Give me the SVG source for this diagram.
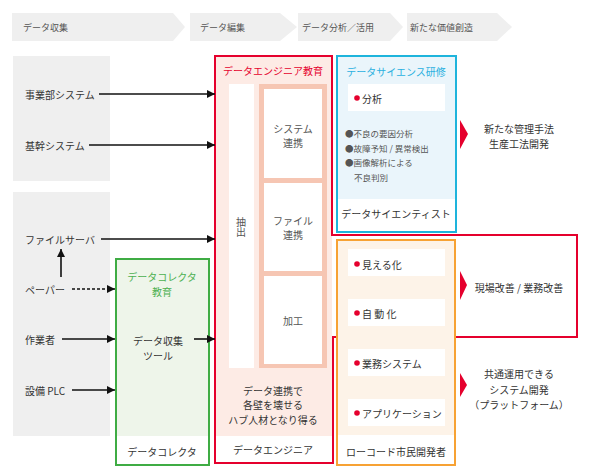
<svg xmlns="http://www.w3.org/2000/svg" width="590" height="475" viewBox="0 0 590 475">
<defs>
<marker id="ah" viewBox="0 0 8 8" refX="8" refY="4" markerWidth="8" markerHeight="8" markerUnits="userSpaceOnUse" orient="auto"><path d="M0,0 L8,4 L0,8 Z" fill="#111"/></marker>
</defs>
<style>
text{font-family:"Noto Sans CJK JP","Noto Sans",sans-serif;dominant-baseline:central;fill:#333}
.hd{font-size:9px;fill:#555}
.t{font-size:10px}
.c{text-anchor:middle}
.s{font-size:8.5px;fill:#555}
.cv{fill:#efefef}
.gray{fill:#efefef}
.wb{fill:#fff}
.ln{stroke:#111;stroke-width:1.6;fill:none;marker-end:url(#ah)}
.tri{fill:#e5002d}
.dot{fill:#e5002d}
</style>
<rect width="590" height="475" fill="#fff"/>
<g id="header">
<polygon class="cv" points="12,13 173,13 185,27 173,41 12,41"/>
<polygon class="cv" points="190,13 280,13 297,27 280,41 190,41"/>
<polygon class="cv" points="298,13 390,13 403,27 390,41 298,41"/>
<polygon class="cv" points="407,13 497,13 512,27 497,41 407,41"/>
<text class="hd" x="23" y="27">データ収集</text>
<text class="hd" x="200" y="27">データ編集</text>
<text class="hd" x="302" y="27">データ分析／活用</text>
<text class="hd" x="410" y="27">新たな価値創造</text>
</g>
<g id="sources">
<rect class="gray" x="13" y="56" width="97" height="125"/>
<rect class="gray" x="13" y="192" width="97" height="244"/>
<text class="t" x="25" y="94">事業部システム</text>
<text class="t" x="25" y="145">基幹システム</text>
<text class="t" x="25" y="239">ファイルサーバ</text>
<text class="t" x="25" y="289">ペーパー</text>
<text class="t" x="25" y="339">作業者</text>
<text class="t" x="25" y="390">設備 PLC</text>
</g>
<g id="collector">
<rect x="116" y="259" width="93" height="177" fill="#eef5ea"/>
<rect x="116" y="259" width="93" height="206" fill="none" stroke="#3fac44" stroke-width="2"/>
<text class="t c" x="162" y="276" style="fill:#4cb050">データコレクタ</text>
<text class="t c" x="162" y="291" style="fill:#4cb050">教育</text>
<text class="t c" x="158" y="340">データ収集</text>
<text class="t c" x="158" y="355">ツール</text>
<text class="t c" x="162" y="451">データコレクタ</text>
</g>
<g id="engineer">
<rect x="215" y="56" width="117" height="380" fill="#fdebe5"/>
<rect class="wb" x="229" y="84" width="25" height="284"/>
<rect x="259" y="84" width="68" height="284" fill="#f6c6b3"/>
<rect class="wb" x="264" y="89" width="58" height="89"/>
<rect class="wb" x="264" y="183" width="58" height="88"/>
<rect class="wb" x="264" y="276" width="58" height="88"/>
<polygon points="215,56 332,56 332,235 577,235 577,337 333,337 333,463 215,463" fill="none" stroke="#e5002d" stroke-width="2"/>
<text class="t c" x="273" y="70" style="fill:#e5002d">データエンジニア教育</text>
<text class="t c" x="241" y="227" style="fill:#555;writing-mode:vertical-rl;dominant-baseline:auto">抽出</text>
<text class="t c" x="293" y="128" style="fill:#555">システム</text>
<text class="t c" x="293" y="142" style="fill:#555">連携</text>
<text class="t c" x="293" y="220" style="fill:#555">ファイル</text>
<text class="t c" x="293" y="234" style="fill:#555">連携</text>
<text class="t c" x="293" y="320" style="fill:#555">加工</text>
<text class="t c" x="273" y="390">データ連携で</text>
<text class="t c" x="273" y="404">各壁を壊せる</text>
<text class="t c" x="273" y="419">ハブ人材となり得る</text>
<text class="t c" x="273" y="449">データエンジニア</text>
</g>
<g id="scientist">
<rect x="337" y="56" width="119" height="143" fill="#eaf5fb"/>
<rect x="337" y="56" width="119" height="176" fill="none" stroke="#1eb4dc" stroke-width="2"/>
<text class="t c" x="396" y="71" style="fill:#29b0e0">データサイエンス研修</text>
<rect class="wb" x="348" y="84" width="97" height="27"/>
<circle class="dot" cx="357" cy="98" r="2.8"/>
<text class="t" x="362" y="98">分析</text>
<text class="s" x="345" y="133">●不良の要因分析</text>
<text class="s" x="345" y="148">●故障予知 / 異常検出</text>
<text class="s" x="345" y="162">●画像解析による</text>
<text class="s" x="354" y="177">不良判別</text>
<text class="t c" x="396" y="213">データサイエンティスト</text>
</g>
<g id="citizen">
<rect x="337" y="240" width="118" height="195" fill="#fdf3e8"/>
<rect x="337" y="240" width="118" height="225" fill="none" stroke="#f7a234" stroke-width="2"/>
<rect class="wb" x="348" y="249" width="97" height="27"/>
<rect class="wb" x="348" y="299" width="97" height="27"/>
<rect class="wb" x="348" y="349" width="97" height="27"/>
<rect class="wb" x="348" y="399" width="97" height="27"/>
<circle class="dot" cx="357" cy="264" r="2.8"/>
<circle class="dot" cx="357" cy="313" r="2.8"/>
<circle class="dot" cx="357" cy="363" r="2.8"/>
<circle class="dot" cx="357" cy="413" r="2.8"/>
<text class="t" x="362" y="264">見える化</text>
<text class="t" x="362" y="313">自 動 化</text>
<text class="t" x="362" y="363">業務システム</text>
<text class="t" x="362" y="413">アプリケーション</text>
<text class="t c" x="396" y="451">ローコード市民開発者</text>
</g>
<g id="outcomes">
<polygon class="tri" points="460,120 468,134 460,149"/>
<polygon class="tri" points="460,271 467,285 460,300"/>
<polygon class="tri" points="460,373 467,385 460,397"/>
<text class="t c" x="519" y="128">新たな管理手法</text>
<text class="t c" x="519" y="143">生産工法開発</text>
<text class="t c" x="519" y="287">現場改善 / 業務改善</text>
<text class="t c" x="519" y="373">共通運用できる</text>
<text class="t c" x="519" y="389">システム開発</text>
<text class="t c" x="519" y="404">（プラットフォーム）</text>
</g>
<g id="connectors">
<line class="ln" x1="99" y1="94" x2="215" y2="94"/>
<line class="ln" x1="89" y1="145" x2="215" y2="145"/>
<line class="ln" x1="101" y1="239" x2="215" y2="239"/>
<line class="ln" x1="61" y1="277" x2="61" y2="249"/>
<line class="ln" x1="72" y1="289" x2="115" y2="289" stroke-dasharray="3,2"/>
<line class="ln" x1="62" y1="339" x2="115" y2="339"/>
<line class="ln" x1="72" y1="390" x2="115" y2="390"/>
<line class="ln" x1="194" y1="339" x2="215" y2="339"/>
</g>
</svg>
